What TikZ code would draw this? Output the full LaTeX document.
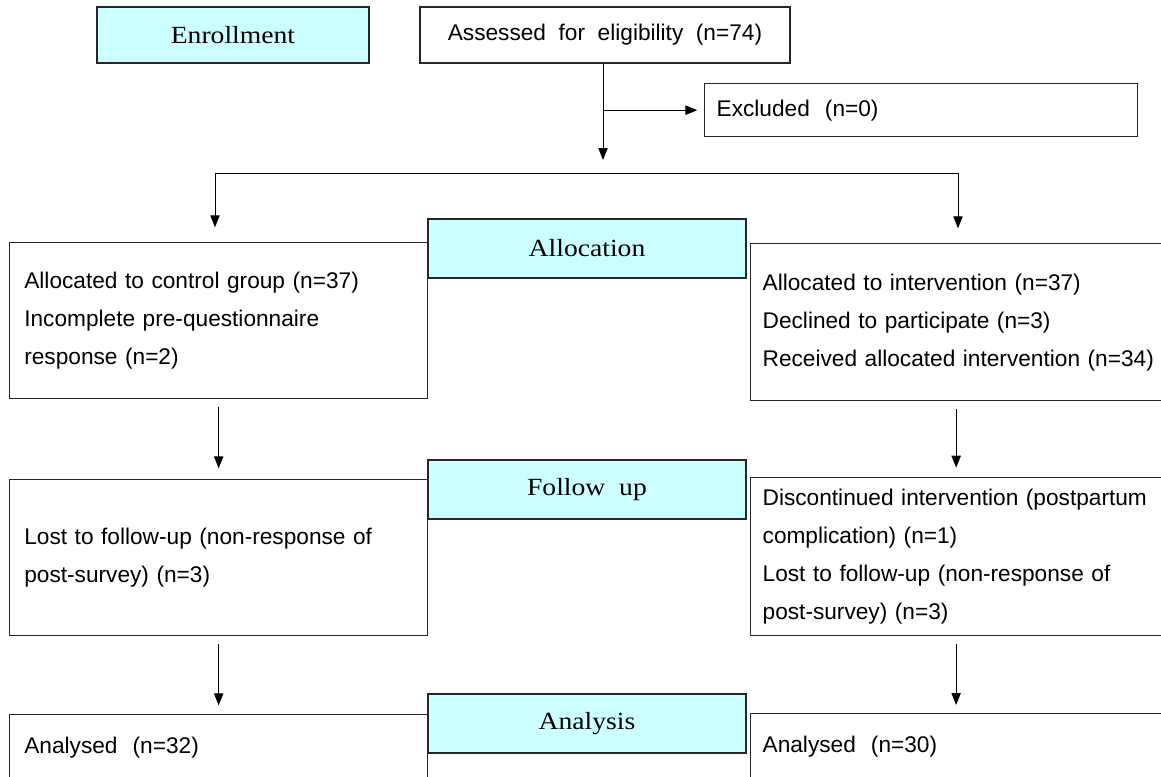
\documentclass[tikz,border=0pt]{standalone}
\usepackage{fontspec}
\usetikzlibrary{arrows.meta}
\newfontfamily\boxfont{Liberation Sans}
\newfontfamily\stagefont{Liberation Serif}[FakeStretch=1.12]
\definecolor{stagecyan}{HTML}{CCFFFF}

\tikzset{stage/.style={draw=black!85, line width=1pt, fill=stagecyan, inner sep=0pt,
        font=\stagefont\fontsize{18.5}{20}\selectfont},
    flow box/.style={draw=black!85, line width=1pt, inner ysep=0pt, anchor=north west,
        align=left, font=\boxfont\fontsize{17}{28.5}\selectfont},
    flow line/.style={line width=0.75pt},
    flow arrow/.style={flow line, -{Triangle[length=9pt, width=7pt]}},
}

\begin{document}
\begin{tikzpicture}[x=0.75pt, y=-0.75pt]
	\useasboundingbox (0, 0) rectangle (1161, 776);
	\clip (0, 0) rectangle (1161, 776);
	\fill[white] (0, 0) rectangle (1161, 776);

	% stage labels
	\node[stage, minimum width=204pt, minimum height=42pt] (enrol) at (233, 35) {Enrollment};
	\node[stage, minimum width=238.5pt, minimum height=44.25pt] (alloc) at (587, 248.5) {Allocation};
	\node[stage, minimum width=238.5pt, minimum height=44.25pt] (follow) at (587, 489.5) {Follow~ up};
	\node[stage, minimum width=238.5pt, minimum height=44.25pt] (analys) at (587, 723.5) {Analysis};

	% enrollment
	\node[draw=black!85, line width=1pt, inner sep=0pt, minimum width=277.5pt, minimum height=42pt,
		font=\boxfont\fontsize{17}{20}\selectfont] (assess) at (605, 35) {Assessed~ for~ eligibility~ (n=74)};
	\node[flow box, inner xsep=9pt, text width=306.75pt, minimum height=39.75pt] (excl) at (704, 83)
		{Excluded~ (n=0)};

	% allocation
	\node[flow box, inner xsep=11pt, text width=291.5pt, minimum height=117pt] (allocL) at (9, 242)
		{Allocated to control group (n=37)\\Incomplete pre-questionnaire\\response (n=2)};
	\node[flow box, inner xsep=9pt, text width=305pt, minimum height=117.75pt] (allocR) at (750, 243)
		{Allocated to intervention (n=37)\\Declined to participate (n=3)\\Received allocated intervention (n=34)};

	% follow up
	\node[flow box, inner xsep=11pt, text width=291.5pt, minimum height=117pt] (followL) at (9, 479)
		{Lost to follow-up (non-response of\\post-survey) (n=3)};
	\node[flow box, inner xsep=9pt, text width=305pt, minimum height=118.5pt] (followR) at (750, 477)
		{Discontinued intervention (postpartum\\complication) (n=1)\\Lost to follow-up (non-response of\\post-survey) (n=3)};

	% analysis
	\node[flow box, inner xsep=11pt, text width=291.5pt, minimum height=50pt] (analysL) at (9, 714)
		{Analysed~ (n=32)};
	\node[flow box, inner xsep=9pt, text width=305pt, minimum height=50pt] (analysR) at (750, 713)
		{Analysed~ (n=30)};

	% connectors
	\coordinate (drop) at (603, 160);
	\coordinate (splitL) at (215, 173);
	\coordinate (splitR) at (958, 173);
	\draw[flow arrow] (drop |- assess.south) -- (drop);
	\draw[flow arrow, shorten >=5pt] (drop |- excl.west) -- (excl.west);
	\draw[flow line] (splitL) -- (splitR);
	\draw[flow arrow, shorten >=11pt] (splitL) -- (splitL |- allocL.north);
	\draw[flow arrow, shorten >=11pt] (splitR) -- (splitR |- allocR.north);
	\draw[flow arrow, shorten <=5.5pt, shorten >=8pt] (allocL) -- (followL);
	\draw[flow arrow, shorten <=5.5pt, shorten >=7pt] ([xshift=-7.4pt]allocR.south) -- ([xshift=-7.4pt]followR.north);
	\draw[flow arrow, shorten <=6pt, shorten >=6.5pt] (followL) -- (analysL);
	\draw[flow arrow, shorten <=5.5pt, shorten >=6pt] ([xshift=-7.4pt]followR.south) -- ([xshift=-7.4pt]analysR.north);
\end{tikzpicture}
\end{document}
